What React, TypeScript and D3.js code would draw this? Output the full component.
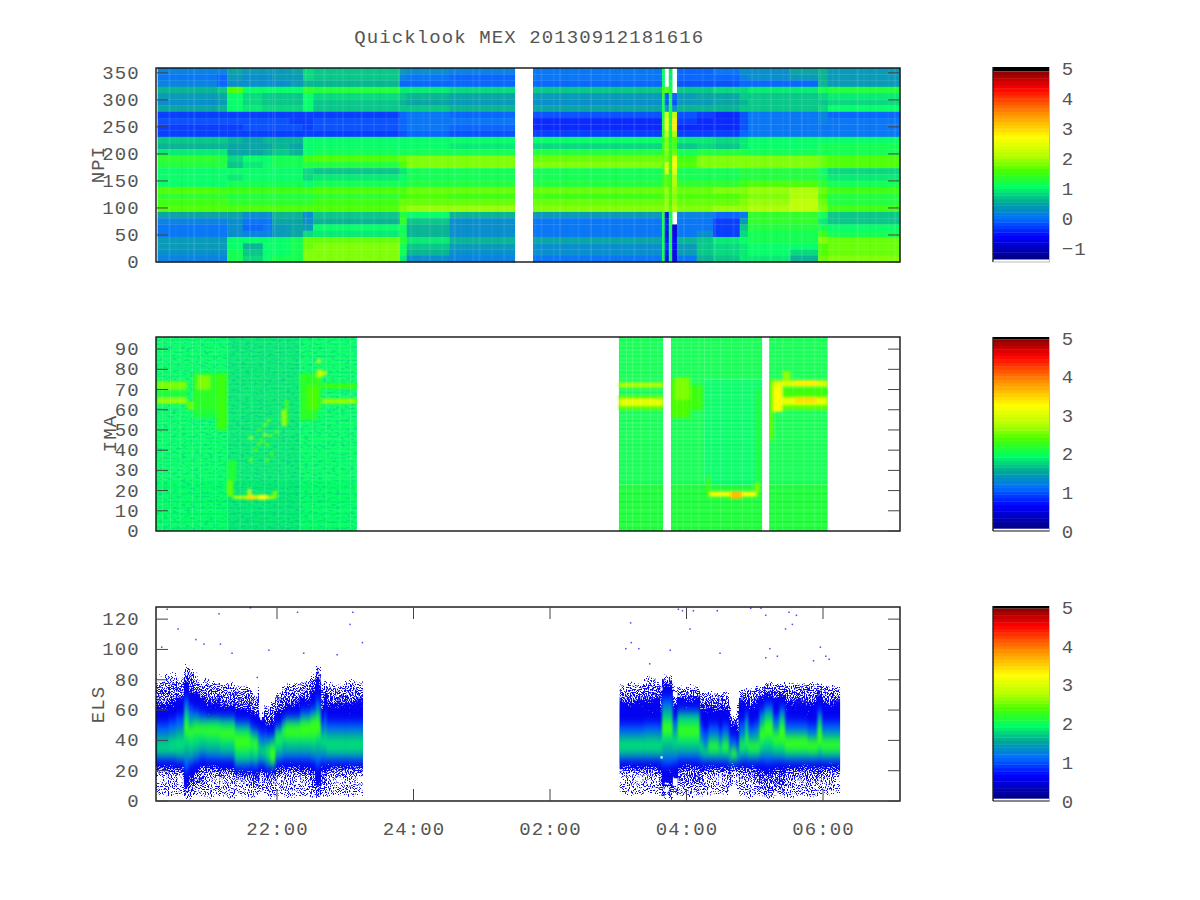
import React from "react";
import * as d3 from "d3";

// ---------- axes ----------
const timeDomain = [20.227, 31.128];
const timeTicks = [22, 24, 26, 28, 30];
const timeLabels = ["22:00", "24:00", "02:00", "04:00", "06:00"];
const npiTicks = [0, 50, 100, 150, 200, 250, 300, 350];
const imaTicks = [0, 10, 20, 30, 40, 50, 60, 70, 80, 90];
const elsTicks = [0, 20, 40, 60, 80, 100, 120];

// ---------- colour map (fraction along the colour bar -> colour) ----------
const cmapStops = [0, 0.12, 0.216, 0.305, 0.385, 0.47, 0.55, 0.65, 0.78, 0.91, 1];
const cmapColors = ["#000082", "#0000ff", "#006eff", "#00aa96", "#00ff64", "#46ff00", "#b4ff00", "#ffff00", "#ff8c00", "#ff0000", "#8c0000"];

// ---------- NPI: hour spans, and per span the 31 rows from top to bottom ----------
const npiSpans = [
  [20.25, 21.12], [21.12, 21.27], [21.27, 21.5], [21.5, 21.79], [21.79, 21.93], [21.93, 22.19], [22.19, 22.38], [22.38, 22.53],
  [22.53, 23.8], [23.8, 23.9], [23.9, 24.53], [24.53, 25.49], [25.75, 27.64], [27.64, 27.68], [27.68, 27.74], [27.74, 27.79],
  [27.79, 27.86], [27.86, 28.15], [28.15, 28.39], [28.39, 28.78], [28.78, 28.9], [28.9, 29.52], [29.52, 29.93], [29.93, 30.07], [30.07, 31.128],
];
const npiCells: (number | null)[][] = [
  [0.1, 0.0, 0.1, 0.6, 0.4, 0.3, 0.5, -0.27, -0.17, -0.32, -0.27, 0.7, 0.6, 0.9, 1.35, 1.3, 1.05, 1.0, 1.05, 1.55, 1.35, 1.45, 1.65, 0.5, 0.1, 0.0, 0.0, 0.4, 0.35, 0.3, 0.1],
  [0.15, -0.1, -0.1, 0.7, 0.45, 0.35, 0.55, -0.27, -0.17, -0.27, -0.27, 0.7, 0.6, 0.9, 1.3, 1.3, 1.05, 1.0, 1.05, 1.5, 1.35, 1.45, 1.6, 0.5, 0.1, 0.0, 0.0, 0.4, 0.35, 0.3, 0.1],
  [0.5, 0.4, 0.3, 1.6, 1.0, 1.0, 1.0, -0.27, -0.17, -0.27, -0.27, 0.6, 0.45, 0.5, 0.85, 0.75, 1.0, 0.9, 1.1, 1.5, 1.3, 1.4, 1.6, 0.5, 0.3, 0.3, 0.3, 1.0, 1.0, 1.2, 1.2],
  [0.35, 0.25, 0.25, 1.05, 0.8, 0.8, 0.9, -0.27, -0.22, -0.22, -0.27, 0.5, 0.45, 0.5, 1.0, 0.9, 1.0, 1.0, 1.1, 1.5, 1.3, 1.4, 1.6, 0.2, 0.05, -0.05, 0.1, 1.0, 0.6, 0.7, 0.8],
  [0.35, 0.3, 0.25, 1.0, 0.75, 0.75, 0.85, -0.27, -0.22, -0.22, -0.27, 0.55, 0.5, 0.6, 1.05, 1.0, 1.0, 1.0, 1.1, 1.5, 1.3, 1.4, 1.6, 0.2, 0.0, 0.0, 0.1, 1.0, 1.0, 1.0, 1.0],
  [0.4, 0.35, 0.3, 1.0, 0.7, 0.65, 0.8, -0.27, -0.22, -0.22, -0.27, 0.6, 0.6, 0.7, 1.1, 1.1, 1.0, 1.0, 1.1, 1.5, 1.3, 1.4, 1.6, 0.6, 0.5, 0.4, 0.4, 1.0, 1.0, 1.0, 1.1],
  [0.45, 0.35, 0.35, 1.05, 0.75, 0.7, 0.8, -0.27, -0.27, -0.22, -0.27, 0.6, 0.5, 0.55, 1.1, 1.1, 1.0, 1.0, 1.1, 1.5, 1.3, 1.4, 1.6, 0.55, 0.5, 0.5, 0.5, 1.1, 1.1, 1.2, 1.2],
  [0.8, 0.8, 0.6, 1.4, 1.0, 1.0, 1.0, -0.32, -0.27, -0.27, -0.27, 1.0, 1.0, 1.05, 1.5, 1.3, 0.8, 0.8, 1.0, 1.5, 1.3, 1.4, 1.6, 0.2, 0.2, 0.35, 0.8, 1.7, 1.7, 1.8, 1.8],
  [0.75, 0.65, 0.55, 1.25, 0.85, 0.75, 0.75, -0.32, -0.22, -0.17, -0.27, 1.05, 1.0, 1.1, 1.6, 1.3, 0.75, 0.9, 1.1, 1.55, 1.35, 1.45, 1.6, 0.65, 0.6, 1.0, 0.95, 1.75, 1.8, 1.85, 1.8],
  [0.4, 0.1, -0.1, 0.9, 0.7, 0.6, 0.7, -0.07, -0.07, -0.07, -0.17, 1.0, 1.0, 1.15, 1.7, 1.6, 0.95, 1.0, 1.2, 1.65, 1.5, 1.7, 1.85, 1.3, 1.4, 1.2, 1.1, 1.4, 1.2, 1.1, 0.9],
  [0.3, 0.0, -0.1, 0.9, 0.6, 0.5, 0.7, 0.08, 0.03, 0.03, -0.07, 1.0, 1.0, 1.2, 1.8, 1.8, 1.2, 1.15, 1.25, 1.7, 1.55, 1.75, 1.95, 1.0, 0.75, 0.6, 0.6, 0.95, 0.7, 0.55, 0.3],
  [0.1, -0.05, -0.1, 0.8, 0.45, 0.4, 0.55, -0.07, -0.02, -0.07, -0.17, 1.0, 0.9, 1.2, 1.8, 1.8, 1.15, 1.15, 1.3, 1.75, 1.5, 1.75, 1.9, 0.6, 0.3, 0.2, 0.2, 0.6, 0.4, 0.3, 0.1],
  [0.0, 0.05, -0.05, 0.65, 0.4, 0.3, 0.5, -0.22, -0.37, -0.42, -0.27, 1.0, 0.85, 1.25, 1.75, 1.8, 1.1, 1.15, 1.3, 1.75, 1.5, 1.7, 1.85, 0.35, 0.05, 0.0, 0.0, 0.45, 0.3, 0.2, 0.0],
  [1.0, 1.0, 1.0, 1.5, 1.3, 1.2, 1.2, 1.2, 1.3, 1.3, 1.3, 1.4, 1.4, 1.5, 1.7, 1.7, 1.4, 1.4, 1.5, 1.7, 1.6, 1.7, 1.8, 1.3, 1.1, 1.1, 1.1, 1.2, 1.2, 1.2, 1.2],
  [null, null, null, 1.6, -0.2, -0.2, 0.3, 2.3, 2.6, 2.6, 2.2, 1.8, 1.8, 1.8, 1.7, 2.3, 2.4, 1.6, 1.6, 1.9, 1.8, 1.9, 1.9, -0.7, -0.5, -0.5, -0.6, -0.5, -0.4, -0.5, -0.7],
  [0.9, 0.9, 1.0, 1.3, 1.2, 1.2, 1.2, 1.1, 1.2, 1.2, 1.2, 1.3, 1.3, 1.4, 1.5, 1.6, 1.4, 1.4, 1.5, 1.6, 1.6, 1.6, 1.7, 1.2, 1.2, 1.2, 1.2, 1.2, 1.2, 1.2, 1.2],
  [null, null, null, null, -0.1, -0.15, 0.2, 2.2, 2.8, 2.8, 2.1, 1.6, 1.5, 1.7, 2.5, 2.6, 2.4, 2.0, 2.0, 1.9, 1.8, 1.9, 2.0, null, null, -0.9, -0.8, -0.6, -0.6, -0.7, -0.7],
  [-0.1, -0.1, -0.2, 0.7, 0.4, 0.35, 0.6, -0.17, -0.32, -0.37, -0.27, 0.9, 0.75, 1.2, 1.5, 1.55, 1.1, 1.1, 1.35, 1.75, 1.55, 1.7, 1.85, 0.15, 0.0, 0.0, 0.05, 0.55, 0.4, 0.35, 0.05],
  [-0.05, -0.05, -0.15, 0.75, 0.45, 0.4, 0.6, -0.27, -0.37, -0.42, -0.27, 0.9, 0.8, 1.25, 1.8, 1.8, 1.1, 1.1, 1.35, 1.75, 1.55, 1.7, 1.85, 0.1, 0.05, 0.0, 0.3, 0.7, 0.7, 0.75, 0.6],
  [0.0, -0.05, -0.15, 0.8, 0.5, 0.45, 0.6, -0.47, -0.47, -0.47, -0.27, 0.8, 0.7, 1.25, 1.8, 1.8, 1.15, 1.2, 1.4, 1.8, 1.6, 1.75, 1.9, -0.1, -0.3, -0.35, -0.3, 0.9, 0.8, 0.8, 0.7],
  [0.25, 0.1, -0.1, 0.85, 0.65, 0.6, 0.65, -0.17, -0.17, -0.17, -0.07, 0.95, 0.95, 1.25, 1.8, 1.8, 1.25, 1.25, 1.5, 1.85, 1.7, 1.85, 1.95, 0.0, 0.4, 0.7, 0.8, 1.0, 0.95, 0.95, 0.9],
  [0.3, 0.25, -0.05, 0.9, 0.75, 0.7, 0.7, 0.08, 0.08, 0.08, 0.03, 1.0, 1.05, 1.2, 1.8, 1.8, 1.3, 1.3, 1.55, 1.95, 1.8, 1.95, 2.0, 1.4, 1.4, 1.3, 1.2, 1.15, 1.0, 1.0, 0.95],
  [0.5, 0.4, -0.05, 0.95, 0.75, 0.7, 0.75, 0.08, 0.08, 0.08, 0.03, 1.0, 1.05, 1.2, 1.8, 1.8, 1.3, 1.3, 1.6, 2.0, 2.0, 2.15, 2.15, 1.4, 1.4, 1.3, 1.2, 1.1, 1.0, 0.8, 0.6],
  [0.6, 0.6, 0.6, 1.1, 0.8, 0.75, 0.8, 0.13, 0.13, 0.08, 0.03, 1.05, 1.1, 1.2, 1.7, 1.7, 1.0, 1.1, 1.4, 1.7, 1.6, 1.7, 1.8, 1.2, 0.9, 1.2, 1.5, 1.8, 1.6, 1.6, 1.75],
  [0.35, 0.35, 0.4, 1.3, 0.9, 0.85, 1.0, -0.12, -0.02, 0.08, 0.03, 1.05, 1.15, 1.2, 1.6, 1.55, 0.8, 0.9, 1.15, 1.45, 1.25, 1.3, 1.45, 0.65, 0.65, 1.0, 1.15, 1.75, 1.7, 1.75, 1.85],
];
// Fine vertical streaks, evenly across the panel
const npiStreaks = [
  0.06, -0.04, 0.09, 0.02, -0.07, 0.05, 0.1, -0.03, 0.04, -0.06, 0.08, 0.01, -0.05, 0.07, -0.02, 0.1, 0.03, -0.08, 0.05, 0.09, -0.04, 0.02, 0.06, -0.06,
  0.08, 0.0, -0.03, 0.11, -0.07, 0.04, 0.07, -0.05, 0.03, 0.09, -0.02, 0.06, -0.08, 0.05, 0.01, 0.1, -0.04, 0.07, -0.06, 0.03, 0.08, -0.02, 0.05, -0.07,
  0.1, 0.02, -0.05, 0.06, 0.09, -0.03, 0.04, -0.08, 0.07, 0.01, -0.04, 0.11, -0.06, 0.03, 0.08, -0.02, 0.05, 0.09, -0.07, 0.02, 0.06, -0.04, 0.1, -0.03,
  0.04, 0.07, -0.08, 0.05, 0.01, 0.09, -0.05, 0.06, 0.03, -0.02, 0.1, -0.07, 0.04, 0.08, -0.03, 0.02, 0.06, -0.05, 0.09, 0.01, -0.06, 0.07, 0.03, -0.04,
  0.08, 0.05, -0.07, 0.1, -0.02, 0.04, 0.06, -0.05, 0.09, 0.02, -0.03, 0.07, -0.06, 0.05, 0.08, 0.01, -0.04, 0.1, 0.03, -0.07, 0.06, -0.02, 0.04, 0.09,
];

// ---------- IMA: patches [hour from, hour to, bin from, bin to, value] ----------
const imaBlocks = [[20.227, 23.17], [27.01, 27.66], [27.77, 29.11], [29.21, 30.07]];
const imaBackground = [
  [20.227, 21.27, 0, 96, 1.93], [21.27, 22.34, 0, 96, 1.88], [22.34, 23.17, 0, 96, 1.91],
  [27.01, 27.66, 0, 23, 2.15], [27.01, 27.66, 23, 96, 2.05],
  [27.77, 29.11, 0, 23, 2.15], [27.77, 28.26, 23, 96, 2.08], [28.26, 29.11, 23, 75, 1.98], [28.26, 29.11, 75, 96, 2.05],
  [29.21, 30.07, 0, 23, 2.15], [29.21, 30.07, 23, 96, 2.08],
];
const imaFeatures = [
  [20.24, 20.68, 70, 74, 2.6], [20.24, 20.68, 63, 66, 2.65], [20.24, 20.68, 66, 70, 2.1], [20.68, 20.77, 60, 64, 2.5],
  [20.77, 21.12, 56, 60, 2.1], [20.77, 21.12, 60, 78, 2.25], [20.83, 21.02, 70, 77, 2.55], [21.12, 21.27, 50, 78, 2.3],
  [21.27, 21.41, 25, 35, 2.15], [21.27, 21.36, 17, 25, 2.45], [21.36, 21.94, 15.8, 17.5, 2.75],
  [21.56, 21.68, 15.5, 18, 3.4], [21.72, 21.85, 15.5, 18, 3.3], [21.57, 21.62, 18, 21, 2.9], [21.94, 22.0, 16, 20, 2.6],
  [22.07, 22.12, 52, 60, 2.7], [22.12, 22.16, 52, 65, 2.4], [22.34, 22.59, 55, 78, 2.2], [22.44, 22.59, 60, 72, 2.4],
  [22.59, 22.64, 60, 78, 2.3], [22.59, 22.66, 76, 80, 2.9], [22.59, 22.64, 83, 85, 3.1], [22.64, 22.73, 77, 79, 2.8],
  [22.66, 23.17, 63, 65.5, 2.65], [22.66, 23.17, 70.5, 73, 2.3],
  [27.01, 27.66, 71, 73.5, 2.75], [27.01, 27.66, 60, 67, 2.5], [27.01, 27.66, 62, 65.5, 3.05],
  [27.77, 28.05, 56, 75, 2.4], [27.83, 28.05, 65, 76, 2.6], [28.05, 28.24, 60, 72, 2.3],
  [28.3, 28.34, 17, 27, 2.35], [28.34, 29.03, 17, 19.5, 3.15], [28.64, 28.81, 16, 19.5, 3.6], [29.03, 29.07, 24, 70, 2.2], [29.0, 29.07, 19, 24, 2.6],
  [29.21, 29.27, 45, 75, 2.45], [29.27, 30.07, 60, 68, 2.5], [29.27, 30.07, 71.5, 74.5, 3.0], [29.27, 30.07, 62.5, 66, 3.1],
  [29.27, 29.4, 59, 72, 3.25], [29.59, 29.91, 72, 74.5, 3.35], [29.59, 29.91, 63.5, 66, 3.45], [29.41, 29.52, 74.5, 79, 2.65], [29.4, 30.07, 67, 71, 2.3],
];
// Isolated brighter cells [hour, bin, value]
const imaSpots = [
  [21.85, 54.5, 2.6], [21.8, 52.5, 2.6], [21.97, 49, 2.5], [21.8, 47.5, 2.7], [21.88, 47, 2.6], [21.59, 46, 2.8], [21.7, 43, 2.5], [21.83, 42.5, 2.5],
  [21.66, 40, 2.5], [21.83, 35, 2.5], [21.59, 35, 2.6], [21.72, 50, 2.5], [21.76, 44.5, 2.45], [21.9, 38, 2.45],
];
// Per-bin row texture (positive = lighter, negative = darker)
const imaRowShade = [
  0.12, -0.03, 0.08, 0.14, -0.05, 0.1, 0.02, 0.13, -0.04, 0.09, 0.15, -0.02, 0.07, 0.11, -0.06, 0.12, 0.03, 0.1, -0.05, 0.14, 0.08, -0.03, 0.06, 0.05,
  0.05, 0.2, 0.08, 0.24, 0.04, 0.19, 0.1, 0.23, 0.06, 0.2, 0.03, 0.22, 0.09, 0.18, 0.05, 0.24, 0.07, 0.2, 0.02, 0.21, 0.08, 0.23, 0.05, 0.19,
  0.1, 0.22, 0.04, 0.2, 0.07, 0.24, 0.03, 0.19, 0.09, 0.22, 0.05, 0.2, 0.08, 0.23, 0.04, 0.21, 0.06, 0.18, 0.1, 0.24, 0.03, 0.2, 0.07, 0.22,
  0.05, 0.19, 0.09, 0.23, 0.06, 0.2, 0.04, 0.22, 0.08, 0.18, 0.05, 0.24, 0.1, 0.2, 0.03, 0.21, 0.07, 0.23, 0.05, 0.19, 0.09, 0.22, 0.04, 0.2,
];
// Lighter vertical lines
const imaLines = [
  20.32, 20.44, 20.58, 20.76, 20.88, 21.1, 21.28, 21.46, 21.63, 21.82, 22.02, 22.13, 22.33, 22.52, 22.72, 22.92, 23.08,
  27.12, 27.21, 27.33, 27.47, 27.58, 27.86, 27.95, 28.07, 28.18, 28.36, 28.5, 28.66, 28.82, 28.96, 29.3, 29.41, 29.56, 29.72, 29.88, 29.98,
];

// ---------- ELS: columns of band edges, upper and lower limit of each level ----------
// [hour at column end, sparseHi, denseHi, blueHi, azureHi, tealHi, springHi, greenHi, greenLo, springLo, tealLo, azureLo, blueLo, denseLo, sparseLo]
const elsStartA = 20.227;
const elsColumnsA = [
  [20.41, 86, 76, 62, 51, 44, 38, 38, 38, 33, 29, 27, 23, 19, 1],
  [20.52, 86, 78, 64, 53, 46, 40, 40, 40, 33, 29, 27, 23, 19, 1],
  [20.64, 85, 79, 66, 56, 48, 42, 42, 42, 33, 28, 26, 22, 18, 1],
  [20.7, 92, 87, 78, 68, 62, 58, 52, 44, 36, 28, 20, 10, 2, 0],
  [20.77, 90, 84, 72, 62, 56, 50, 48, 42, 34, 28, 24, 16, 6, 0],
  [20.86, 86, 79, 70, 60, 56, 52, 50, 44, 36, 30, 26, 20, 10, 0],
  [20.95, 84, 76, 66, 58, 54, 52, 50, 44, 38, 32, 28, 24, 12, 0],
  [21.16, 82, 75, 64, 56, 55, 53, 49, 43, 37, 31, 27, 23, 17, 0],
  [21.38, 80, 74, 62, 56, 54, 52, 48, 41, 35, 30, 27, 22, 16, 0],
  [21.6, 78, 73, 60, 53, 50, 48, 44, 34, 28, 25, 22, 19, 14, 0],
  [21.65, 76, 72, 58, 50, 46, 44, 40, 36, 30, 26, 23, 19, 12, 0],
  [21.72, 72, 68, 56, 48, 46, 42, 40, 34, 28, 25, 22, 18, 10, 0],
  [21.74, 76, 74, 56, 46, 40, 36, 36, 36, 34, 28, 24, 20, 10, 2],
  [21.78, 56, 54, 52, 46, 40, 36, 36, 36, 32, 27, 24, 21, 18, 4],
  [21.81, 60, 58, 52, 44, 38, 34, 34, 34, 30, 27, 24, 21, 18, 4],
  [21.84, 66, 62, 50, 46, 40, 36, 36, 36, 32, 26, 23, 20, 16, 3],
  [21.9, 64, 60, 50, 44, 40, 36, 34, 32, 28, 24, 22, 18, 14, 0],
  [21.97, 68, 62, 52, 44, 42, 38, 36, 26, 24, 23, 22, 19, 14, 0],
  [22.07, 74, 70, 58, 50, 48, 46, 42, 40, 34, 29, 26, 22, 16, 0],
  [22.12, 78, 73, 60, 54, 52, 50, 47, 43, 38, 31, 27, 23, 17, 0],
  [22.34, 80, 74, 63, 56, 54, 52, 50, 42, 37, 31, 27, 23, 16, 0],
  [22.49, 82, 76, 66, 60, 56, 54, 52, 42, 37, 31, 27, 22, 15, 0],
  [22.57, 86, 80, 72, 62, 58, 56, 54, 42, 36, 30, 26, 20, 8, 0],
  [22.6, 92, 88, 78, 68, 62, 58, 56, 44, 38, 30, 22, 14, 3, 0],
  [22.64, 90, 84, 75, 66, 60, 56, 52, 44, 38, 30, 24, 14, 2, 0],
  [22.69, 80, 75, 60, 52, 46, 42, 40, 40, 36, 30, 26, 22, 12, 0],
  [22.72, 84, 78, 68, 58, 50, 44, 42, 42, 36, 30, 25, 20, 12, 0],
  [23.0, 80, 74, 63, 52, 46, 41, 41, 41, 33, 29, 26, 23, 17, 1],
  [23.36, 82, 75, 64, 52, 46, 41, 41, 41, 33, 29, 26, 23, 17, 1],
];
const elsStartB = 26.95;
const elsColumnsB = [
  [27.37, 80, 74, 64, 50, 44, 40, 40, 40, 33, 29, 27, 23, 19, 2],
  [27.6, 84, 78, 66, 51, 45, 40, 40, 40, 33, 29, 27, 23, 18, 2],
  [27.64, 80, 76, 60, 50, 44, 40, 40, 40, 33, 29, 26, 22, 10, 0],
  [27.79, 85, 80, 76, 68, 62, 56, 52, 44, 38, 30, 24, 12, 0, 0],
  [27.87, 78, 70, 62, 54, 48, 42, 42, 42, 36, 30, 25, 16, 8, 0],
  [28.19, 78, 74, 66, 60, 58, 56, 50, 42, 36, 31, 27, 23, 10, 0],
  [28.24, 74, 70, 60, 50, 42, 38, 38, 38, 33, 29, 26, 22, 12, 0],
  [28.32, 74, 70, 60, 46, 38, 34, 34, 34, 31, 28, 26, 23, 18, 2],
  [28.47, 74, 70, 60, 50, 44, 40, 38, 34, 31, 28, 26, 23, 18, 2],
  [28.52, 74, 70, 60, 46, 40, 36, 36, 36, 31, 28, 26, 23, 18, 2],
  [28.62, 74, 70, 60, 50, 44, 40, 38, 34, 31, 28, 26, 23, 18, 2],
  [28.65, 66, 60, 50, 42, 34, 30, 30, 30, 28, 26, 24, 20, 16, 6],
  [28.73, 58, 54, 50, 42, 36, 34, 34, 30, 28, 26, 25, 24, 20, 8],
  [28.77, 68, 62, 46, 38, 32, 30, 30, 30, 28, 27, 25, 23, 18, 4],
  [28.86, 76, 72, 64, 52, 44, 40, 38, 36, 32, 29, 26, 23, 15, 0],
  [28.9, 76, 72, 64, 58, 54, 48, 42, 38, 33, 29, 26, 23, 16, 0],
  [29.0, 76, 72, 62, 50, 44, 40, 38, 34, 31, 28, 26, 23, 15, 0],
  [29.07, 78, 74, 64, 52, 46, 40, 38, 34, 31, 28, 26, 22, 12, 0],
  [29.14, 78, 75, 66, 60, 56, 50, 48, 40, 34, 30, 26, 20, 8, 0],
  [29.26, 80, 77, 70, 64, 60, 56, 52, 42, 35, 30, 25, 19, 4, 0],
  [29.36, 80, 76, 66, 56, 50, 46, 44, 38, 33, 29, 26, 22, 8, 0],
  [29.44, 80, 76, 68, 62, 58, 54, 50, 38, 33, 29, 26, 20, 6, 0],
  [29.77, 80, 76, 64, 52, 46, 44, 42, 34, 31, 28, 26, 23, 14, 0],
  [29.92, 80, 76, 64, 50, 44, 41, 40, 33, 31, 28, 26, 23, 14, 0],
  [29.98, 80, 76, 68, 60, 56, 52, 48, 36, 32, 29, 26, 22, 14, 0],
  [30.35, 78, 74, 64, 52, 46, 42, 40, 34, 31, 28, 26, 23, 16, 2],
];
const elsBlocks = [[20.227, 23.26], [27.02, 30.25]];
// Isolated counts [hour, bin]
const elsOutliers = [
  [20.3, 102], [20.54, 114], [20.38, 127], [20.8, 107], [20.92, 104], [21.14, 124], [21.16, 104], [21.33, 98], [21.6, 128], [21.87, 100], [22.29, 125],
  [22.38, 98], [22.87, 97], [23.06, 117], [23.1, 125], [23.24, 105], [21.7, 82], [27.87, 127], [27.93, 126], [28.09, 126], [28.44, 126], [28.93, 127.7],
  [29.08, 127.7], [29.15, 123], [29.49, 125], [29.6, 123], [29.54, 117], [29.44, 114], [27.17, 118], [27.18, 105], [27.1, 101], [27.29, 101], [27.75, 100],
  [28.04, 114], [28.48, 98], [29.21, 101], [29.15, 95], [29.32, 96], [29.95, 102], [30.08, 94], [30.03, 96], [29.85, 93], [27.45, 91],
];
// Empty cells in the anomalous columns [hour from, hour to, bin from, bin to]
const elsGaps = [
  [27.62, 27.65, 73, 75], [27.62, 27.65, 28, 29.5], [27.8, 27.87, 69, 72], [27.8, 27.87, 10, 15], [27.8, 27.87, 1, 4],
  [27.68, 27.74, 6, 9], [27.68, 27.74, 2, 4], [27.68, 27.74, 11, 12],
];

// ---------- helpers ----------
const W = 1200, H = 900, L = 156, R = 900;
const x = d3.scaleLinear().domain(timeDomain).range([L, R]);
const yNpi = d3.scaleLinear().domain([0, 359]).range([262, 68]);
const yIma = d3.scaleLinear().domain([0, 96]).range([531, 337]);
const yEls = d3.scaleLinear().domain([0, 128]).range([801, 607]);

const LEVELS = 56;
const palette = d3.scaleLinear<string>().domain(cmapStops).range(cmapColors).interpolate(d3.interpolateRgb).clamp(true);
function colorOf(v: number, lo: number, hi: number) {
  const f = (v - lo) / (hi - lo);
  if (f >= 1) return "#000";
  const q = (Math.floor(Math.max(0, f) * LEVELS) + 0.5) / LEVELS;
  return palette(q);
}
const FONT = "'Liberation Mono', monospace";
const INK = "#444";
const TEXT = "#555";
const ADV = 12.5;
function Mono({ text, cx, y, anchorCell, color = TEXT }: { text: string; cx: number; y: number; anchorCell?: "first" | "last"; color?: string }) {
  const n = text.length;
  const start = anchorCell === "first" ? cx : anchorCell === "last" ? cx - (n - 1) * ADV : cx - ((n - 1) * ADV) / 2;
  const xs = Array.from(text).map((_, i) => (start + i * ADV).toFixed(1)).join(" ");
  return (
    <text x={xs} y={y} textAnchor="middle" fontFamily={FONT} fontSize={19} fill={color} style={{ whiteSpace: "pre" }}>
      {text}
    </text>
  );
}

function Frame({ top, bottom, ticks, y, xTicks }: { top: number; bottom: number; ticks: number[]; y: (v: number) => number; xTicks?: boolean }) {
  return (
    <g>
      <rect x={L} y={top} width={R - L} height={bottom - top} fill="none" stroke="#111" strokeWidth={1.4} />
      {ticks.map((t) => (
        <g key={t} stroke={INK} strokeWidth={1}>
          <line x1={L} x2={L + 12} y1={y(t)} y2={y(t)} />
          <line x1={R - 12} x2={R} y1={y(t)} y2={y(t)} />
        </g>
      ))}
      {xTicks &&
        timeTicks.map((t) => (
          <g key={t} stroke={INK} strokeWidth={1}>
            <line x1={x(t)} x2={x(t)} y1={top} y2={top + 12} />
            <line x1={x(t)} x2={x(t)} y1={bottom - 12} y2={bottom} />
          </g>
        ))}
      {ticks.map((t) => (
        <Mono key={t} text={String(t)} cx={133} y={y(t) + 6} anchorCell="last" />
      ))}
    </g>
  );
}

function ColorBar({ lo, hi, vals, labels, from, to, top, bottom }: { lo: number; hi: number; vals: [number, number]; labels: number[]; from: number; to: number; top: number; bottom: number }) {
  const s = d3.scaleLinear().domain(vals).range([to, from]);
  const levels = d3.range(LEVELS);
  return (
    <g>
      <rect x={993} y={top} width={56} height={s(hi) - top} fill="#000" />
      {levels.map((i) => {
        const a = lo + ((hi - lo) * i) / LEVELS;
        const b = lo + ((hi - lo) * (i + 1)) / LEVELS;
        return <rect key={i} x={993} y={s(b)} width={56} height={s(a) - s(b) + 0.4} fill={colorOf((a + b) / 2, lo, hi)} />;
      })}
      <line x1={993} x2={993} y1={top} y2={bottom} stroke="#222" strokeWidth={1.4} />
      <line x1={1049.5} x2={1049.5} y1={top} y2={bottom} stroke="#bbb" strokeWidth={1} />
      <line x1={993} x2={1049.5} y1={bottom} y2={bottom} stroke={lo < 0 ? "#bbb" : "#111"} strokeWidth={1.2} />
      {labels.map((l) => (
        <Mono key={l} text={l < 0 ? "\u2212" + Math.abs(l) : String(l)} cx={1067.5} y={s(l) + 6.5} anchorCell="first" />
      ))}
    </g>
  );
}

function Rotated({ text, px, cy }: { text: string; px: number; cy: number }) {
  return (
    <g transform={`translate(${px},${cy}) rotate(-90)`}>
      <Mono text={text} cx={0} y={0} />
    </g>
  );
}

function elsBars(rows: number[][], start: number) {
  return rows.map((r, i) => ({ h0: i === 0 ? start : rows[i - 1][0], h1: r[0], e: r.slice(1) }));
}
const elsAll = [...elsBars(elsColumnsA, elsStartA), ...elsBars(elsColumnsB, elsStartB)];
// level name -> position of its upper and lower edge in a column, colour
const elsSolidLevels: [number, number, string][] = [
  [2, 11, "#0000ee"],
  [3, 10, "#0060ff"],
  [4, 9, "#00aaa0"],
  [5, 8, "#00e078"],
  [6, 7, "#38ff18"],
];

const NPI_LO = -1.37, NPI_HI = 4.9, STD_LO = 0.07, STD_HI = 4.97;
const rowsCount = npiCells[0].length;
const rowEdge = (i: number) => yNpi(359 - (i * 359) / rowsCount);

export default function App() {
  const streakStep = (timeDomain[1] - timeDomain[0]) / npiStreaks.length;
  return (
    <svg width={W} height={H} viewBox={`0 0 ${W} ${H}`} style={{ position: "absolute", left: 0, top: 0, background: "#fff" }}>
      <defs>
        <clipPath id="elsClip">
          {elsBlocks.map(([a, b]) => (
            <rect key={a} x={x(a)} y={607} width={x(b) - x(a)} height={194} />
          ))}
        </clipPath>
        <filter id="soften" x="-2%" y="-5%" width="104%" height="110%">
          <feGaussianBlur stdDeviation="0.7 0.35" />
        </filter>
        <filter id="glow" x="-5%" y="-5%" width="110%" height="110%">
          <feGaussianBlur stdDeviation="1.5 1.2" />
        </filter>
        <filter id="elsBlur" x="0" y="-10%" width="100%" height="120%" colorInterpolationFilters="sRGB">
          <feGaussianBlur stdDeviation="1 4" />
        </filter>
        <filter id="stipple" x="0" y="0" width="100%" height="100%" colorInterpolationFilters="sRGB">
          <feGaussianBlur in="SourceAlpha" stdDeviation="0.3 3" result="s" />
          <feTurbulence type="fractalNoise" baseFrequency="0.95" numOctaves={1} seed={3} result="n" />
          <feColorMatrix in="n" type="matrix" values="0 0 0 0 0  0 0 0 0 0  0 0 0 0 0  1 0 0 0 0" result="na" />
          <feComposite in="s" in2="na" operator="arithmetic" k1={0} k2={14} k3={14} k4={-15.4} result="mask" />
          <feFlood floodColor="#0808f0" />
          <feComposite in2="mask" operator="in" />
        </filter>
        <filter id="imaGrain" x="0" y="0" width="100%" height="100%" colorInterpolationFilters="sRGB">
          <feTurbulence type="fractalNoise" baseFrequency="0.22 0.5" numOctaves={2} seed={7} result="n" />
          <feColorMatrix in="n" type="matrix" values="0 0 0 0 0  0 0 0 0 0.66  0 0 0 0 0.58  6 0 0 0 -3.1" />
          <feComposite in2="SourceAlpha" operator="in" />
        </filter>
      </defs>

      {/* Title */}
      <Mono text="Quicklook MEX 20130912181616" cx={528.7} y={43} />

      {/* NPI */}
      <g filter="url(#soften)">
        {npiSpans.map(([h0, h1], c) =>
          npiCells[c].map((v, r) =>
            v === null ? null : (
              <rect key={`${c}-${r}`} x={x(h0)} y={rowEdge(r)} width={x(h1) - x(h0) + 0.3} height={rowEdge(r + 1) - rowEdge(r) + 0.3} fill={colorOf(v, NPI_LO, NPI_HI)} />
            )
          )
        )}
      </g>
      {npiStreaks.map((s, i) => {
        const h0 = timeDomain[0] + i * streakStep;
        const h1 = h0 + streakStep / 3;
        if ((h0 < 25.75 && h1 > 25.49) || i === 0) return null;
        return <rect key={i} x={x(h0)} y={68} width={x(h1) - x(h0)} height={194} fill={s > 0 ? "#fff" : "#000"} opacity={s > 0 ? s : -s * 0.3} />;
      })}
      <rect x={L} y={68} width={R - L} height={194} fill="#fff" opacity={0.04} />
      {/* keep the data gap of NPI clean */}
      <rect x={x(25.49)} y={68} width={x(25.75) - x(25.49)} height={194} fill="#fff" />
      <Frame top={68} bottom={262} ticks={npiTicks} y={yNpi} />
      <Rotated text="NPI" px={104} cy={165} />

      {/* IMA */}
      <g>
        {imaBackground.map(([h0, h1, e0, e1, v], i) => (
          <rect key={i} x={x(h0)} y={yIma(e1)} width={x(h1) - x(h0)} height={yIma(e0) - yIma(e1)} fill={colorOf(v, STD_LO, STD_HI)} />
        ))}
        {imaBlocks.map(([h0, h1], b) =>
          imaRowShade.map((s, r) => (
            <rect key={`${b}-${r}`} x={x(h0)} y={yIma(r + 1)} width={x(h1) - x(h0)} height={yIma(r) - yIma(r + 1)} fill={s > 0 ? "#fff" : "#000"} opacity={Math.abs(s) * (b === 0 ? 0.5 : 0.7)} />
          ))
        )}
        <rect x={x(imaBlocks[0][0])} y={337} width={x(imaBlocks[0][1]) - x(imaBlocks[0][0])} height={194} fill="#000" filter="url(#imaGrain)" opacity={0.28} />
        <g filter="url(#glow)">
          {imaFeatures.map(([h0, h1, e0, e1, v], i) => (
            <rect key={i} x={x(h0)} y={yIma(e1)} width={x(h1) - x(h0)} height={yIma(e0) - yIma(e1)} fill={colorOf(v, STD_LO, STD_HI)} />
          ))}
          {imaSpots.map(([h, e, v], i) => (
            <rect key={i} x={x(h)} y={yIma(e + 0.8)} width={3.5} height={yIma(e) - yIma(e + 1.4)} fill={colorOf(v, STD_LO, STD_HI)} />
          ))}
        </g>
        {imaLines.map((h, i) => (
          <line key={i} x1={x(h)} x2={x(h)} y1={337} y2={531} stroke="#fff" strokeWidth={1} opacity={0.16} />
        ))}
        {/* white separators between the IMA blocks */}
        <rect x={x(27.66)} y={337} width={x(27.77) - x(27.66)} height={194} fill="#fff" />
        <rect x={x(29.11)} y={337} width={x(29.21) - x(29.11)} height={194} fill="#fff" />
        <rect x={x(30.07)} y={337} width={10} height={194} fill="#fff" />
      </g>
      <Frame top={337} bottom={531} ticks={imaTicks} y={yIma} />
      <Rotated text="IMA" px={116} cy={434} />

      {/* ELS */}
      <g clipPath="url(#elsClip)">
        <g filter="url(#stipple)">
          {elsAll.map((c, i) => (
            <g key={i}>
              <rect x={x(c.h0)} y={yEls(c.e[0])} width={x(c.h1) - x(c.h0) + 0.3} height={yEls(c.e[13]) - yEls(c.e[0])} fill="#000" fillOpacity={0.56} />
              <rect x={x(c.h0)} y={yEls(c.e[1])} width={x(c.h1) - x(c.h0) + 0.3} height={yEls(c.e[12]) - yEls(c.e[1])} fill="#000" fillOpacity={0.2} />
              <rect x={x(c.h0)} y={yEls(c.e[2])} width={x(c.h1) - x(c.h0) + 0.3} height={yEls(c.e[11]) - yEls(c.e[2])} fill="#000" fillOpacity={0.8} />
            </g>
          ))}
        </g>
        <g filter="url(#elsBlur)">
          {elsSolidLevels.map(([hi, lo, col]) =>
            elsAll.map((c, i) => (
              <rect key={`${hi}-${i}`} x={x(c.h0)} y={yEls(c.e[hi])} width={x(c.h1) - x(c.h0) + 0.3} height={Math.max(0, yEls(c.e[lo]) - yEls(c.e[hi]))} fill={col} fillOpacity={hi === 2 ? 0.55 : 1} />
            ))
          )}
        </g>
        {elsGaps.map(([h0, h1, e0, e1], i) => (
          <rect key={i} x={x(h0)} y={yEls(e1)} width={x(h1) - x(h0)} height={yEls(e0) - yEls(e1)} fill="#fff" />
        ))}
      </g>
      {elsOutliers.map(([h, e], i) => (
        <rect key={i} x={x(h)} y={yEls(e)} width={1.5} height={1.5} fill="#4a4af0" />
      ))}
      <Frame top={607} bottom={801} ticks={elsTicks} y={yEls} xTicks />
      <Rotated text="ELS" px={104} cy={705} />
      {timeTicks.map((t, i) => (
        <Mono key={t} text={timeLabels[i]} cx={x(t)} y={835} />
      ))}

      {/* Colour bars */}
      <ColorBar lo={NPI_LO} hi={NPI_HI} vals={[-1, 5]} labels={[-1, 0, 1, 2, 3, 4, 5]} from={68.5} to={248} top={67} bottom={262} />
      <ColorBar lo={STD_LO} hi={STD_HI} vals={[0, 5]} labels={[0, 1, 2, 3, 4, 5]} from={338} to={531} top={337} bottom={531} />
      <ColorBar lo={STD_LO} hi={STD_HI} vals={[0, 5]} labels={[0, 1, 2, 3, 4, 5]} from={607.5} to={801} top={606} bottom={801} />
    </svg>
  );
}
